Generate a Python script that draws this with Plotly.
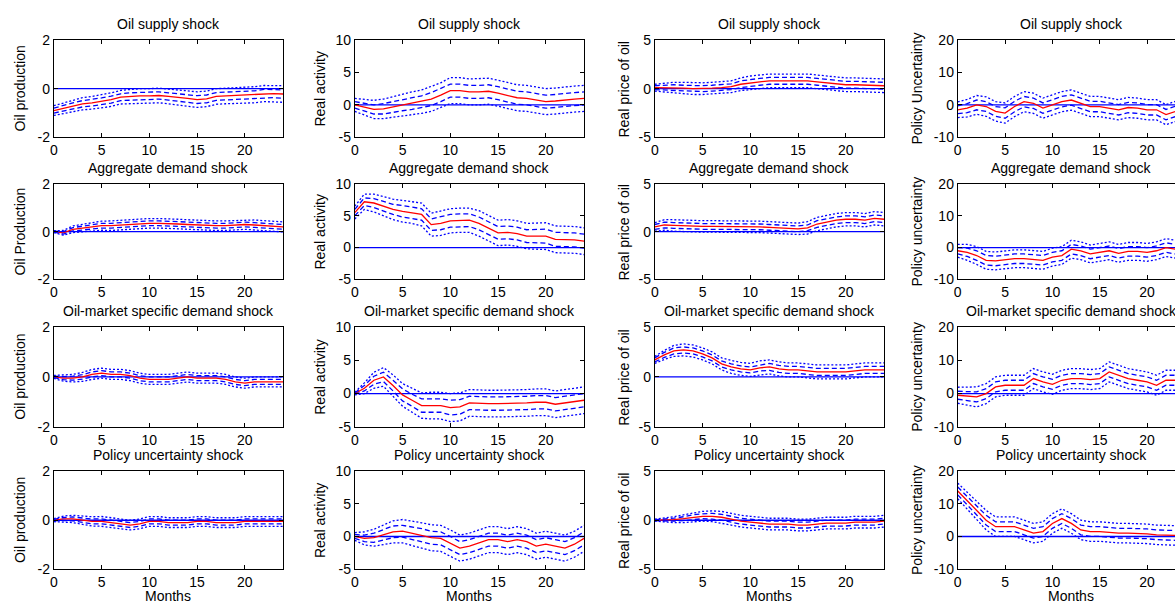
import numpy as np
import plotly.graph_objects as go

months = list(range(25))

shock_titles = ["Oil supply shock", "Aggregate demand shock",
                "Oil-market specific demand shock", "Policy uncertainty shock"]
y_labels = [
    ["Oil production", "Real activity", "Real price of oil", "Policy Uncertainty"],
    ["Oil Production", "Real activity", "Real price of oil", "Policy uncertainty"],
    ["Oil production", "Real activity", "Real price of oil", "Policy uncertainty"],
    ["Oil production", "Real activity", "Real price of oil", "Policy uncertainty"],
]
x_label = "Months"
x_tickvals = [0, 5, 10, 15, 20]
y_ranges = [[-2, 2], [-5, 10], [-5, 5], [-10, 20]]
y_tickvals = [[-2, 0, 2], [-5, 0, 5, 10], [-5, 0, 5], [-10, 0, 10, 20]]
y_ticktext = [["-2", "0", "2"], ["-5", "0", "5", "10"], ["-5", "0", "5"], ["-10", "0", "10", "20"]]
zero_level = 0

# ---- Oil supply shock ----
os_prod_med = [-0.9,-0.8,-0.7,-0.62,-0.58,-0.52,-0.45,-0.35,-0.32,-0.3,-0.3,-0.28,-0.32,-0.35,-0.4,-0.45,-0.42,-0.32,-0.3,-0.28,-0.25,-0.25,-0.2,-0.2,-0.22]
os_prod_w1 = [0.1,0.12,0.12,0.13,0.13,0.14,0.14,0.14,0.15,0.15,0.15,0.15,0.15,0.15,0.16,0.16,0.16,0.16,0.16,0.16,0.16,0.16,0.17,0.17,0.17]
os_prod_w2 = [0.2,0.22,0.24,0.25,0.26,0.27,0.28,0.28,0.29,0.3,0.3,0.3,0.3,0.31,0.31,0.32,0.32,0.32,0.32,0.33,0.33,0.33,0.33,0.34,0.34]

os_act_med = [0,-0.3,-0.7,-0.6,-0.3,0,0.2,0.5,0.9,1.5,2.2,2.2,2.0,2.0,2.1,1.8,1.4,1.1,1.0,0.8,0.5,0.6,0.8,0.9,1.0]
os_act_w1 = [0.5,0.6,0.7,0.8,0.8,0.9,0.9,0.9,1.0,1.0,1.0,1.0,1.0,1.0,1.0,1.0,1.0,1.0,1.0,1.0,1.0,1.0,1.0,1.0,1.0]
os_act_w2 = [1.0,1.2,1.4,1.5,1.6,1.7,1.8,1.8,1.9,1.9,2.0,2.0,2.0,2.0,2.0,2.0,2.0,2.0,2.0,2.0,2.0,2.0,2.0,2.0,2.0]

os_price_med = [0.1,0.1,0.1,0.05,0.0,0.0,0.05,0.1,0.2,0.45,0.6,0.7,0.8,0.8,0.8,0.8,0.8,0.7,0.6,0.5,0.4,0.4,0.35,0.3,0.3]
os_price_w1 = [0.2,0.25,0.3,0.3,0.3,0.3,0.3,0.3,0.3,0.35,0.35,0.35,0.35,0.35,0.35,0.35,0.35,0.35,0.35,0.35,0.35,0.35,0.35,0.35,0.35]
os_price_w2 = [0.35,0.45,0.55,0.6,0.6,0.6,0.6,0.6,0.6,0.65,0.7,0.7,0.7,0.7,0.7,0.7,0.7,0.7,0.7,0.7,0.7,0.7,0.7,0.7,0.7]

os_unc_med = [-1.5,-1.0,0.0,-0.5,-2.0,-2.5,-0.5,1.0,0.5,-1.0,0.0,1.0,1.5,0.5,-0.5,-0.5,-1.0,-1.5,-0.8,-1.0,-1.5,-1.5,-3.0,-2.0,-1.5]
os_unc_w1 = [1.2,1.4,1.5,1.5,1.5,1.6,1.6,1.6,1.6,1.6,1.6,1.6,1.6,1.6,1.6,1.6,1.6,1.6,1.6,1.6,1.6,1.6,1.6,1.6,1.6]
os_unc_w2 = [2.4,2.7,2.9,3.0,3.0,3.1,3.1,3.1,3.1,3.1,3.1,3.1,3.1,3.1,3.1,3.1,3.1,3.1,3.1,3.1,3.1,3.1,3.1,3.1,3.1]

# ---- Aggregate demand shock ----
ad_prod_med = [0,-0.05,0.1,0.15,0.2,0.25,0.25,0.28,0.3,0.32,0.35,0.35,0.35,0.32,0.3,0.28,0.25,0.25,0.25,0.27,0.3,0.28,0.25,0.22,0.2]
ad_prod_w1 = [0.02,0.05,0.07,0.08,0.09,0.1,0.1,0.1,0.1,0.1,0.1,0.1,0.1,0.1,0.1,0.1,0.1,0.1,0.1,0.1,0.1,0.1,0.1,0.1,0.1]
ad_prod_w2 = [0.04,0.1,0.14,0.16,0.18,0.19,0.2,0.2,0.2,0.2,0.2,0.2,0.2,0.2,0.2,0.2,0.2,0.2,0.2,0.2,0.2,0.21,0.21,0.21,0.21]

ad_act_med = [5.5,7.2,7.0,6.5,6.0,5.7,5.5,5.2,3.6,3.8,4.2,4.3,4.3,3.8,3.0,2.3,2.4,2.2,1.8,1.8,1.8,1.3,1.3,1.2,1.0]
ad_act_w1 = [0.5,0.6,0.7,0.8,0.8,0.9,0.9,0.9,0.9,1.0,1.0,1.0,1.0,1.0,1.0,1.0,1.0,1.0,1.0,1.1,1.1,1.1,1.1,1.1,1.1]
ad_act_w2 = [1.0,1.2,1.4,1.5,1.6,1.7,1.7,1.8,1.8,1.9,1.9,1.9,1.9,2.0,2.0,2.0,2.0,2.0,2.0,2.1,2.1,2.1,2.1,2.1,2.1]

ad_price_med = [0.5,0.7,0.65,0.6,0.6,0.55,0.55,0.55,0.55,0.55,0.55,0.5,0.45,0.4,0.4,0.3,0.4,0.8,1.0,1.2,1.3,1.3,1.2,1.4,1.3]
ad_price_w1 = [0.25,0.3,0.3,0.3,0.3,0.3,0.3,0.3,0.3,0.3,0.3,0.3,0.3,0.3,0.3,0.3,0.3,0.35,0.35,0.35,0.35,0.35,0.35,0.35,0.35]
ad_price_w2 = [0.45,0.55,0.6,0.6,0.6,0.6,0.6,0.6,0.6,0.6,0.6,0.6,0.6,0.6,0.6,0.6,0.65,0.7,0.7,0.7,0.7,0.7,0.7,0.7,0.7]

ad_unc_med = [-1.0,-1.5,-2.5,-4.0,-4.2,-3.8,-3.5,-3.5,-3.8,-4.0,-3.0,-2.5,-0.5,-1.0,-2.0,-1.5,-1.0,-1.8,-1.2,-1.2,-1.5,-1.0,0.0,-0.5,-0.5]
ad_unc_w1 = [1.0,1.3,1.5,1.5,1.5,1.5,1.5,1.5,1.5,1.5,1.5,1.5,1.5,1.5,1.5,1.5,1.5,1.5,1.5,1.5,1.5,1.5,1.5,1.5,1.5]
ad_unc_w2 = [2.0,2.5,2.8,2.8,2.8,2.8,2.8,2.8,2.8,2.8,2.8,2.8,2.8,2.8,2.8,2.8,2.8,2.8,2.8,2.8,2.8,2.8,2.8,2.8,2.8]

# ---- Oil-market specific demand shock ----
om_prod_med = [0,-0.05,-0.05,0,0.1,0.15,0.1,0.1,0.05,-0.05,-0.1,-0.1,-0.1,-0.05,0,-0.05,-0.05,-0.05,-0.1,-0.2,-0.25,-0.2,-0.2,-0.2,-0.2]
om_prod_w1 = [0.03,0.06,0.08,0.09,0.1,0.1,0.1,0.1,0.1,0.1,0.1,0.1,0.1,0.1,0.1,0.1,0.1,0.1,0.1,0.1,0.1,0.1,0.1,0.1,0.1]
om_prod_w2 = [0.06,0.12,0.15,0.18,0.2,0.2,0.2,0.2,0.2,0.2,0.2,0.2,0.2,0.2,0.2,0.2,0.2,0.2,0.2,0.2,0.2,0.2,0.2,0.2,0.2]

om_act_med = [0,0.8,2.0,2.5,1.2,-0.2,-1.0,-1.8,-1.8,-1.8,-2.1,-2.0,-1.4,-1.5,-1.5,-1.5,-1.5,-1.5,-1.4,-1.3,-1.3,-1.6,-1.4,-1.3,-1.0]
om_act_w1 = [0.1,0.4,0.6,0.7,0.8,0.9,0.9,1.0,1.0,1.0,1.1,1.1,1.0,1.0,1.0,1.0,1.0,1.0,1.0,1.0,1.0,1.0,1.0,1.0,1.0]
om_act_w2 = [0.2,0.8,1.2,1.4,1.6,1.7,1.8,1.9,2.0,2.0,2.1,2.1,2.0,2.0,2.0,2.0,2.0,2.0,2.0,2.0,2.0,2.0,2.0,2.0,2.0]

om_price_med = [1.7,2.2,2.6,2.7,2.6,2.3,1.9,1.3,1.0,0.8,0.7,0.9,1.0,0.8,0.7,0.7,0.6,0.5,0.5,0.5,0.5,0.6,0.7,0.7,0.7]
om_price_w1 = [0.2,0.25,0.3,0.3,0.3,0.3,0.3,0.3,0.3,0.3,0.3,0.3,0.35,0.35,0.35,0.35,0.35,0.35,0.35,0.35,0.35,0.35,0.35,0.35,0.35]
om_price_w2 = [0.35,0.45,0.55,0.6,0.6,0.6,0.6,0.6,0.65,0.65,0.65,0.7,0.7,0.7,0.7,0.7,0.7,0.7,0.7,0.7,0.7,0.7,0.7,0.7,0.7]

om_unc_med = [-0.5,-0.8,-1.0,0.0,2.0,2.5,2.5,2.5,4.5,3.5,2.8,4.0,4.5,4.5,4.2,4.5,6.5,5.5,4.5,4.0,3.5,2.5,4.0,4.0,3.5]
om_unc_w1 = [1.2,1.4,1.5,1.5,1.5,1.5,1.5,1.5,1.5,1.5,1.5,1.5,1.5,1.5,1.5,1.5,1.5,1.5,1.5,1.5,1.5,1.5,1.5,1.5,1.5]
om_unc_w2 = [2.4,2.7,3.0,3.0,3.0,3.0,3.0,3.0,3.0,3.0,3.0,3.0,3.0,3.0,3.0,3.0,3.0,3.0,3.0,3.0,3.0,3.0,3.0,3.0,3.0]

# ---- Policy uncertainty shock ----
pu_prod_med = [0,0.05,0.05,0,-0.05,-0.05,-0.1,-0.15,-0.2,-0.15,-0.05,-0.05,-0.1,-0.1,-0.1,-0.05,-0.05,-0.1,-0.1,-0.1,-0.05,-0.05,-0.05,-0.05,-0.05]
pu_prod_w1 = [0.03,0.06,0.08,0.09,0.1,0.1,0.1,0.1,0.1,0.1,0.1,0.1,0.1,0.1,0.1,0.1,0.1,0.1,0.1,0.1,0.1,0.1,0.1,0.1,0.1]
pu_prod_w2 = [0.06,0.12,0.15,0.17,0.19,0.2,0.2,0.2,0.2,0.2,0.2,0.2,0.2,0.2,0.2,0.2,0.2,0.2,0.2,0.2,0.2,0.2,0.2,0.2,0.2]

pu_act_med = [0,-0.3,-0.2,0.2,0.7,0.8,0.5,0.2,-0.2,-0.3,-1.0,-1.8,-1.5,-1.0,-0.5,-0.5,-0.8,-0.5,-0.8,-1.5,-1.2,-1.5,-1.8,-1.2,-0.3]
pu_act_w1 = [0.3,0.5,0.7,0.8,0.9,0.9,1.0,1.0,1.0,1.0,1.0,1.0,1.0,1.0,1.0,1.0,1.0,1.0,1.0,1.0,1.0,1.0,1.0,1.0,1.0]
pu_act_w2 = [0.6,1.0,1.3,1.5,1.7,1.8,1.9,1.9,2.0,2.0,2.0,2.0,2.0,2.0,2.0,2.0,2.0,2.0,2.0,2.0,2.0,2.0,2.0,2.0,2.0]

pu_price_med = [0,0,0.05,0.15,0.3,0.4,0.4,0.3,0.1,-0.1,-0.2,-0.3,-0.4,-0.4,-0.4,-0.5,-0.5,-0.4,-0.3,-0.3,-0.3,-0.2,-0.2,-0.2,-0.1]
pu_price_w1 = [0.05,0.1,0.15,0.2,0.25,0.25,0.3,0.3,0.3,0.3,0.3,0.3,0.3,0.3,0.3,0.3,0.3,0.3,0.3,0.3,0.3,0.3,0.3,0.3,0.3]
pu_price_w2 = [0.1,0.2,0.3,0.4,0.45,0.5,0.55,0.6,0.6,0.6,0.6,0.6,0.6,0.6,0.6,0.6,0.6,0.6,0.6,0.6,0.6,0.6,0.6,0.6,0.6]

pu_unc_med = [14,11,8,5,3,3,3,2,1,1.5,4,5.5,4,2,1.5,1.5,1.2,1,1,1,0.8,0.5,0.5,0.3,0.2]
pu_unc_w1 = [1.2,1.3,1.4,1.5,1.5,1.5,1.5,1.5,1.5,1.5,1.5,1.5,1.5,1.5,1.5,1.5,1.5,1.5,1.5,1.5,1.5,1.5,1.5,1.5,1.5]
pu_unc_w2 = [2.4,2.6,2.8,3.0,3.0,3.0,3.0,3.0,3.0,3.0,3.0,3.0,3.0,3.0,3.0,3.0,3.0,3.0,3.0,3.0,3.0,3.0,3.0,3.0,3.0]

panels = [
    [(os_prod_med, os_prod_w1, os_prod_w2), (os_act_med, os_act_w1, os_act_w2),
     (os_price_med, os_price_w1, os_price_w2), (os_unc_med, os_unc_w1, os_unc_w2)],
    [(ad_prod_med, ad_prod_w1, ad_prod_w2), (ad_act_med, ad_act_w1, ad_act_w2),
     (ad_price_med, ad_price_w1, ad_price_w2), (ad_unc_med, ad_unc_w1, ad_unc_w2)],
    [(om_prod_med, om_prod_w1, om_prod_w2), (om_act_med, om_act_w1, om_act_w2),
     (om_price_med, om_price_w1, om_price_w2), (om_unc_med, om_unc_w1, om_unc_w2)],
    [(pu_prod_med, pu_prod_w1, pu_prod_w2), (pu_act_med, pu_act_w1, pu_act_w2),
     (pu_price_med, pu_price_w1, pu_price_w2), (pu_unc_med, pu_unc_w1, pu_unc_w2)],
]

# ---- layout geometry (target pixels in the photographed page) ----
W, H = 1175, 605
col_px = [(50, 280), (352, 582), (653, 883), (957, 1175)]
col_xmax = [24, 24, 24, 22.95]
col_center = [165, 467, 768, 1071]
ylab_off = [34, 35, 31, 41]
row_px = [(40, 137.5), (184, 279.5), (327, 427), (471.5, 569)]
months_y = 596


def ypx(y):
    # compensate for the vertical squeeze observed in the photographed page
    return (y - 8.1) / 0.9735


RED = "#ff0000"
BLUE = "#0000ff"
FONT = "Liberation Sans, Arial, sans-serif"
FS = 14

fig = go.Figure()
layout = dict(
    width=W, height=H, margin=dict(l=0, r=0, t=0, b=0),
    paper_bgcolor="white", plot_bgcolor="white", showlegend=False,
    font=dict(family=FONT, size=FS, color="black"),
)
annotations = []
shapes = []

k = 0
for r in range(4):
    for c in range(4):
        k += 1
        suffix = "" if k == 1 else str(k)
        xa, ya = "x" + suffix, "y" + suffix
        med, w1, w2 = (np.array(a, dtype=float) for a in panels[r][c])
        lines = [
            (med, RED, "solid"),
            (med + w1, BLUE, "5px,3px"), (med - w1, BLUE, "5px,3px"),
            (med + w2, BLUE, "2px,2px"), (med - w2, BLUE, "2px,2px"),
        ]
        for yv, col, dash in lines:
            fig.add_trace(go.Scatter(x=months, y=yv, mode="lines", xaxis=xa, yaxis=ya,
                                     line=dict(color=col, width=1.3, dash=dash),
                                     hoverinfo="skip"))
        shapes.append(dict(type="line", xref=f"{xa} domain", yref=ya,
                           x0=0, x1=1, y0=zero_level, y1=zero_level,
                           line=dict(color=BLUE, width=1.4), layer="below"))
        x0, x1 = col_px[c]
        y0, y1 = ypx(row_px[r][0]), ypx(row_px[r][1])
        layout["xaxis" + suffix] = dict(
            domain=[x0 / W, x1 / W], anchor=ya, range=[0, col_xmax[c]],
            tickvals=x_tickvals, ticks="inside", ticklen=4, tickcolor="black",
            showline=True, linecolor="black", linewidth=1, mirror="ticks",
            showgrid=False, zeroline=False, tickfont=dict(size=FS),
        )
        layout["yaxis" + suffix] = dict(
            domain=[1 - y1 / H, 1 - y0 / H], anchor=xa, range=y_ranges[c],
            tickvals=y_tickvals[c], ticktext=y_ticktext[c],
            ticks="inside", ticklen=4, tickcolor="black",
            showline=True, linecolor="black", linewidth=1,
            mirror=("ticks" if c < 3 else False),
            showgrid=False, zeroline=False,
            tickfont=dict(size=FS),
        )
        annotations.append(dict(
            text=shock_titles[r], xref="paper", yref="paper",
            x=col_center[c] / W, y=1 - ypx(row_px[r][0] - 16) / H,
            xanchor="center", yanchor="middle", showarrow=False,
            font=dict(size=FS)))
        annotations.append(dict(
            text=y_labels[r][c], xref="paper", yref="paper",
            x=(x0 - ylab_off[c]) / W, y=1 - ((y0 + y1) / 2) / H,
            xanchor="center", yanchor="middle", textangle=-90, showarrow=False,
            font=dict(size=FS)))
        if r == 3:
            annotations.append(dict(
                text=x_label, xref="paper", yref="paper",
                x=col_center[c] / W, y=1 - ypx(months_y) / H,
                xanchor="center", yanchor="middle", showarrow=False,
                font=dict(size=FS)))

layout["annotations"] = annotations
layout["shapes"] = shapes
fig.update_layout(**layout)

pin_page = (
    "document.documentElement.style.margin='0';"
    "document.documentElement.style.overflow='hidden';"
    "document.body.style.margin='0';"
    "document.body.style.overflow='hidden';"
    "var d=document.getElementById('{plot_id}');"
    "d.style.position='fixed';d.style.top='0px';d.style.left='0px';"
)
fig.write_html("out.html", config={"displayModeBar": False}, post_script=pin_page)
